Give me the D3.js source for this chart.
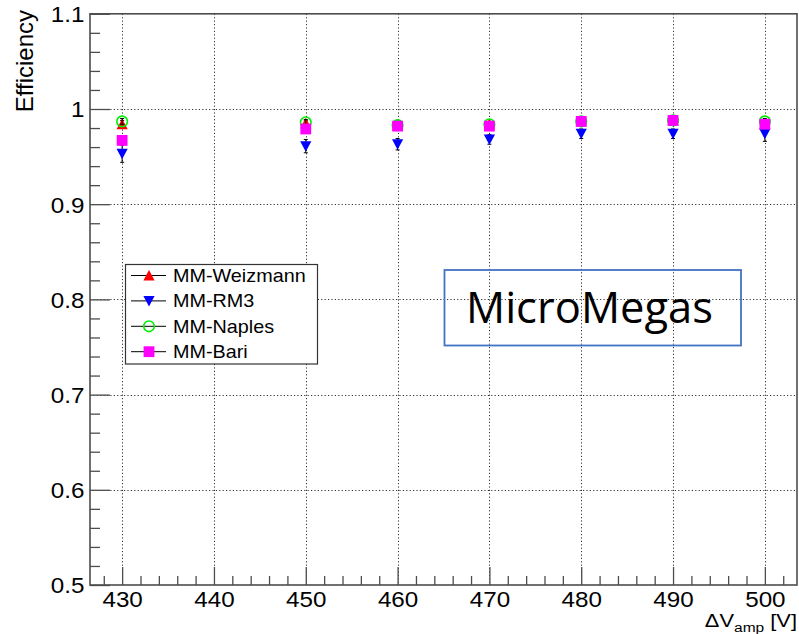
<!DOCTYPE html>
<html>
<head>
<meta charset="utf-8">
<script src="https://cdn.jsdelivr.net/npm/d3@7"></script>
<style>
  html, body { margin: 0; padding: 0; background: #fff; }
  svg { display: block; }
  text { font-family: "Liberation Sans", Arial, Helvetica, sans-serif; fill: #000; }
</style>
</head>
<body>
<svg id="chart" width="799" height="634"></svg>
<script>
// Amplification voltage scan points [V]
const voltages = [430, 450, 460, 470, 480, 490, 500];

// Efficiency per detector
const weizmann    = [0.984, 0.985, 0.983, 0.984, 0.987, 0.988, 0.984];
const weizmannErr = [0.004, 0.003, 0.003, 0.003, 0.003, 0.003, 0.004];
const rm3         = [0.953, 0.961, 0.963, 0.968, 0.974, 0.974, 0.974];
const rm3Err      = [0.009, 0.007, 0.006, 0.005, 0.005, 0.005, 0.008];
const naples      = [0.987, 0.986, 0.983, 0.984, 0.987, 0.988, 0.987];
const naplesErr   = [0.003, 0.003, 0.003, 0.003, 0.003, 0.003, 0.003];
const bari        = [0.967, 0.979, 0.982, 0.982, 0.987, 0.988, 0.984];
const bariErr     = [0.004, 0.003, 0.003, 0.003, 0.003, 0.003, 0.003];

// Axis ticks
const xTicks = [430, 440, 450, 460, 470, 480, 490, 500];
const yTicks = [0.5, 0.6, 0.7, 0.8, 0.9, 1, 1.1];

const seriesNames = ["MM-Weizmann", "MM-RM3", "MM-Naples", "MM-Bari"];

const W = 799, H = 634;
const frame = { l: 90, r: 797, t: 13.8, b: 585 };
const svg = d3.select("#chart");

const x = d3.scaleLinear().domain([426.5, 503.5]).range([frame.l, frame.r]);
const y = d3.scaleLinear().domain([0.5, 1.1]).range([frame.b, frame.t]);

const series = [
  { name: seriesNames[0], vals: weizmann, errs: weizmannErr, shape: "up",     color: "#ff0000" },
  { name: seriesNames[1], vals: rm3,      errs: rm3Err,      shape: "down",   color: "#0000ff" },
  { name: seriesNames[2], vals: naples,   errs: naplesErr,   shape: "circle", color: "#00ee00" },
  { name: seriesNames[3], vals: bari,     errs: bariErr,     shape: "square", color: "#ff00ff" }
];

// Grid (dotted, at major ticks)
const grid = svg.append("g").attr("stroke", "#333").attr("stroke-width", 1)
  .attr("stroke-dasharray", "1.2,2.2");
xTicks.forEach(v => grid.append("line")
  .attr("x1", Math.round(x(v)) + 0.5).attr("x2", Math.round(x(v)) + 0.5)
  .attr("y1", frame.t).attr("y2", frame.b));
yTicks.filter(v => v > 0.5 && v < 1.1).forEach(v => grid.append("line")
  .attr("x1", frame.l).attr("x2", frame.r)
  .attr("y1", Math.round(y(v)) + 0.5).attr("y2", Math.round(y(v)) + 0.5));

// Axes: ticks drawn inward from the frame
const axisColor = "#4d4d4d";
const stretch = "scale(1.1,1)";

const xMinor = d3.range(428, 503, 2).filter(v => !xTicks.includes(v));
svg.append("g").attr("transform", `translate(0,${frame.b})`)
  .call(d3.axisBottom(x).tickValues(xMinor).tickSizeInner(-9).tickSizeOuter(0).tickFormat(""))
  .call(g => g.select(".domain").remove());
const gx = svg.append("g").attr("transform", `translate(0,${frame.b})`)
  .call(d3.axisBottom(x).tickValues(xTicks).tickSizeInner(-18).tickSizeOuter(0).tickPadding(6.5)
    .tickFormat(d3.format("d")))
  .call(g => g.select(".domain").remove());
gx.selectAll("text").attr("font-size", 22).attr("font-family", null).attr("fill", "#111")
  .attr("transform", stretch);

const yMinor = d3.range(0, 31).map(i => 0.5 + i * 0.02).filter(v => Math.abs((v * 10) - Math.round(v * 10)) > 1e-6);
svg.append("g").attr("transform", `translate(${frame.l},0)`)
  .call(d3.axisLeft(y).tickValues(yMinor).tickSizeInner(-10).tickSizeOuter(0).tickFormat(""))
  .call(g => g.select(".domain").remove());
const gy = svg.append("g").attr("transform", `translate(${frame.l},0)`)
  .call(d3.axisLeft(y).tickValues(yTicks).tickSizeInner(-20).tickSizeOuter(0).tickPadding(5)
    .tickFormat(d3.format("~g")))
  .call(g => g.select(".domain").remove());
gy.selectAll("text").attr("font-size", 22).attr("font-family", null).attr("fill", "#111")
  .attr("dy", "0.36em").attr("transform", stretch);

svg.selectAll(".tick line").attr("stroke", axisColor).attr("stroke-width", 1.3);

// Frame
svg.append("rect")
  .attr("x", frame.l).attr("y", frame.t)
  .attr("width", frame.r - frame.l).attr("height", frame.b - frame.t)
  .attr("fill", "none").attr("stroke", axisColor).attr("stroke-width", 1.6);

// Axis titles
svg.append("text")
  .attr("transform", `translate(33,10) rotate(-90)`)
  .attr("text-anchor", "end").attr("font-size", 24).attr("fill", "#111")
  .text("Efficiency");

const xt = svg.append("text")
  .attr("transform", `translate(797,627) scale(1.15,1)`)
  .attr("text-anchor", "end").attr("font-size", 19).attr("fill", "#111");
xt.append("tspan").text("\u0394V");
xt.append("tspan").attr("font-size", 13.5).attr("dy", 4.5).text("amp");
xt.append("tspan").attr("dy", -4.5).text(" [V]");

// Marker shapes
function marker(sel, shape, color) {
  if (shape === "circle") {
    sel.append("circle").attr("r", 5.3).attr("fill", "none")
      .attr("stroke", color).attr("stroke-width", 1.6);
  } else if (shape === "square") {
    sel.append("rect").attr("x", -5.4).attr("y", -5.4).attr("width", 10.8).attr("height", 10.8)
      .attr("fill", color);
  } else if (shape === "up") {
    sel.append("path").attr("d", "M0,-5.6L5.6,5L-5.6,5Z").attr("fill", color);
  } else {
    sel.append("path").attr("d", "M0,5.6L5.6,-5L-5.6,-5Z").attr("fill", color);
  }
}

// Data: error bars then markers
const dataG = svg.append("g");
series.forEach(s => {
  const g = dataG.append("g");
  voltages.forEach((v, i) => {
    const cx = x(v), lo = y(s.vals[i] - s.errs[i]), hi = y(s.vals[i] + s.errs[i]);
    g.append("line").attr("x1", cx).attr("x2", cx).attr("y1", lo).attr("y2", hi)
      .attr("stroke", "#000").attr("stroke-width", 1);
    [lo, hi].forEach(yy => g.append("line").attr("x1", cx - 2).attr("x2", cx + 2)
      .attr("y1", yy).attr("y2", yy).attr("stroke", "#000").attr("stroke-width", 1));
  });
  voltages.forEach((v, i) => {
    const m = g.append("g").attr("transform", `translate(${x(v)},${y(s.vals[i])})`);
    marker(m, s.shape, s.color);
  });
});

// Legend
const leg = svg.append("g");
leg.append("rect").attr("x", 125.5).attr("y", 264.5).attr("width", 192).attr("height", 99.5)
  .attr("fill", "#fff").attr("stroke", "#333").attr("stroke-width", 1.2);
series.forEach((s, i) => {
  const cy = 275.5 + i * 25.4;
  leg.append("line").attr("x1", 131).attr("x2", 166).attr("y1", cy).attr("y2", cy)
    .attr("stroke", "#000").attr("stroke-width", 1);
  const m = leg.append("g").attr("transform", `translate(149,${cy})`);
  marker(m, s.shape, s.color);
  leg.append("text").attr("transform", `translate(173,${cy + 6.5}) ${stretch}`)
    .attr("font-size", 18).attr("fill", "#111").text(s.name);
});

// Detector label box
svg.append("rect").attr("x", 444.5).attr("y", 270).attr("width", 296.5).attr("height", 75.5)
  .attr("fill", "none").attr("stroke", "#4472c4").attr("stroke-width", 1.8);
svg.append("text").attr("x", 466).attr("y", 323.3)
  .style("font-family", "'Open Sans', 'Noto Sans', sans-serif")
  .attr("font-size", 44).attr("textLength", 247).attr("lengthAdjust", "spacingAndGlyphs")
  .text("MicroMegas");
</script>
</body>
</html>
